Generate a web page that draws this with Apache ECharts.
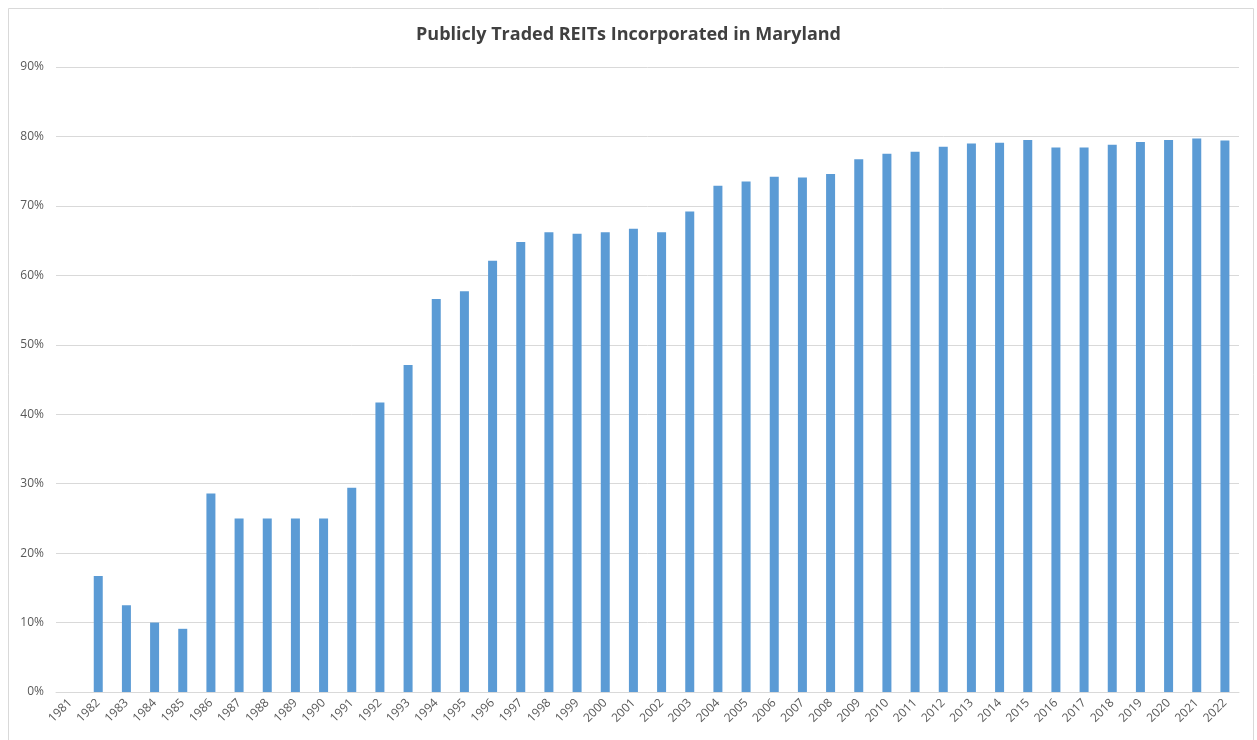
<!DOCTYPE html>
<html>
<head>
<meta charset="utf-8">
<title>Publicly Traded REITs Incorporated in Maryland</title>
<script src="https://cdn.jsdelivr.net/npm/echarts@6/dist/echarts.min.js"></script>
<style>
  html, body { margin: 0; padding: 0; background: #fff; }
  #main { width: 1257px; height: 740px; }
</style>
</head>
<body>
<div id="main"></div>
<script>
  // years on the x axis
  var years = [];
  for (var y = 1981; y <= 2022; y++) years.push(String(y));

  // share of REITs incorporated in Maryland (%)
  var shares = [
    0, 16.7, 12.5, 10.0, 9.1, 28.6, 25.0, 25.0, 25.0, 25.0,
    29.4, 41.7, 47.1, 56.6, 57.7, 62.1, 64.8, 66.2, 66.0, 66.2,
    66.7, 66.2, 69.2, 72.9, 73.5, 74.2, 74.1, 74.6, 76.7, 77.5,
    77.8, 78.5, 79.0, 79.1, 79.5, 78.4, 78.4, 78.8, 79.2, 79.5,
    79.7, 79.4
  ];

  var yTicks = [0, 10, 20, 30, 40, 50, 60, 70, 80, 90];

  var chart = echarts.init(document.getElementById('main'), null, { renderer: 'canvas' });
  chart.setOption({
    backgroundColor: '#fff',
    animation: false,
    textStyle: { fontFamily: '"Open Sans", "Liberation Sans", sans-serif' },
    title: {
      text: 'Publicly Traded REITs Incorporated in Maryland',
      left: 'center',
      top: 21,
      textStyle: { fontSize: 18, fontWeight: 'bold', color: '#404040',
        fontFamily: '"Open Sans", "Liberation Sans", sans-serif' }
    },
    graphic: [{
      type: 'rect',
      shape: { x: 8.5, y: 8.5, width: 1245, height: 740 },
      style: { fill: 'none', stroke: '#d9d9d9', lineWidth: 1 },
      silent: true
    }],
    grid: { left: 56, right: 18, top: 67, bottom: 48 },
    xAxis: {
      type: 'category',
      data: years,
      axisTick: { show: false },
      axisLine: { lineStyle: { color: '#d9d9d9' } },
      axisLabel: { rotate: 45, interval: 0, color: '#595959', fontSize: 12, margin: 9 }
    },
    yAxis: {
      type: 'value',
      min: yTicks[0],
      max: yTicks[yTicks.length - 1],
      interval: 10,
      axisLine: { show: false },
      axisTick: { show: false },
      splitLine: { lineStyle: { color: '#d9d9d9' } },
      axisLabel: { color: '#595959', fontSize: 12, margin: 12, formatter: '{value}%' }
    },
    series: [{
      type: 'bar',
      data: shares,
      barWidth: 9,
      itemStyle: { color: '#5b9bd5' }
    }]
  });
</script>
</body>
</html>
